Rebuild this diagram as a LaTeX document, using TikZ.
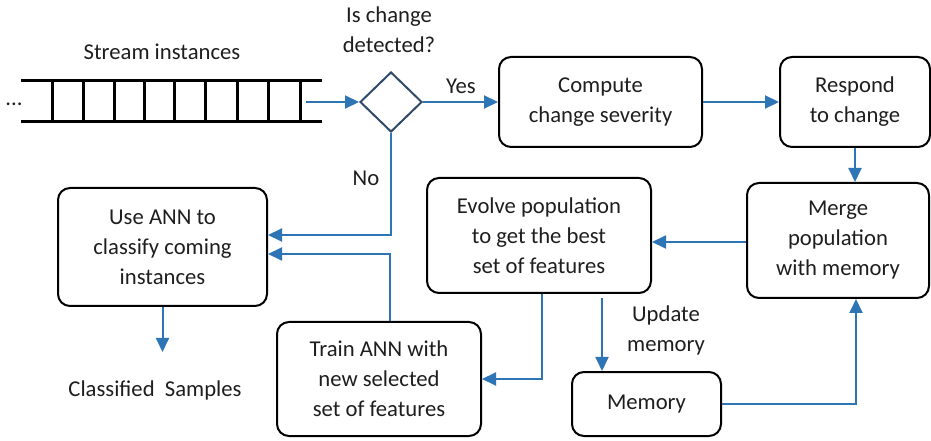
\documentclass[tikz,border=0pt]{standalone}
\usepackage{fontspec}
\setmainfont{Carlito}
\usetikzlibrary{arrows.meta,shapes.geometric}
\definecolor{flowblue}{RGB}{46,117,182}
\definecolor{slate}{RGB}{47,74,107}
\definecolor{ink}{RGB}{30,30,30}
\def\px{0.75pt}
\tikzset{
  box/.style={draw=black, line width=2*\px, rounded corners=12*\px, align=center,
              inner sep=0pt, text=ink},
  lbl/.style={align=center, text=ink, inner sep=0pt},
  arr/.style={draw=flowblue, line width=2*\px, -{Triangle[length=14*\px, width=13*\px]}},
  rail/.style={line width=3*\px, draw=black}
}
\begin{document}
\begin{tikzpicture}[x=0.75pt, y=-0.75pt, font=\fontsize{17}{22.5}\selectfont]
  \useasboundingbox (0,0) rectangle (931,441);

  % stream of instances as a ladder
  \draw[rail] (21,81) -- (322,81);
  \draw[rail] (21,122) -- (322,122);
  \foreach \x in {52,83,114,144,174,205,237,268,300}
    \draw[rail] (\x,81) -- (\x,122);
  \node[lbl] (dots) at (14,104) {...};
  \node[lbl] (stream) at (162,52) {Stream instances};
  \coordinate (streamEnd) at (306,102);

  % decision
  \node[diamond, draw=slate, line width=2*\px, inner sep=0pt,
        minimum width=62*\px, minimum height=60*\px] (dia) at (391,102) {};
  \node[lbl] (q) at (389,30) {Is change\\detected?};

  % process boxes
  \node[box, minimum width=203*\px, minimum height=90*\px] (cs) at (600.5,102)
    {Compute\\change severity};
  \node[box, minimum width=150*\px, minimum height=90*\px] (rc) at (855,102)
    {Respond\\to change};
  \node[box, minimum width=182*\px, minimum height=115*\px] (mg) at (838,240.5)
    {Merge\\population\\with memory};
  \node[box, minimum width=224*\px, minimum height=115*\px] (ev) at (539,235.5)
    {Evolve population\\to get the best\\set of features};
  \node[box, minimum width=209*\px, minimum height=118*\px] (use) at (162.5,247)
    {Use ANN to\\classify coming\\instances};
  \node[box, minimum width=204*\px, minimum height=114*\px] (tr) at (379,379)
    {Train ANN with\\new selected\\set of features};
  \node[box, minimum width=149*\px, minimum height=64*\px] (mem) at (646.5,404)
    {Memory};

  % free labels
  \node[lbl] (yes) at (461,86) {Yes};
  \node[lbl] (no) at (366,178) {No};
  \node[lbl] (upd) at (666,330) {Update\\memory};
  \node[lbl] (cls) at (155,390) {Classified\ \ Samples};
  \coordinate (clsTip) at (162.5,352);
  \coordinate (updTop) at (602,298);

  % connectors
  \draw[arr] (streamEnd) -- (dia.west);
  \draw[arr] (dia.east) -- (cs.west);
  \draw[arr] (cs.east) -- (rc.west);
  \draw[arr] (rc.south) -- (rc.south |- mg.north);
  \draw[arr] (mg.west |- 0,242) -- (ev.east |- 0,242);
  \draw[arr] (dia.south) |- ([yshift=9pt]use.east);
  \draw[arr] ([xshift=8.25pt]tr.north) |- ([yshift=-5.25pt]use.east);
  \draw[arr] ([xshift=2.25pt]ev.south) |- (tr.east);
  \draw[arr] (updTop) -- (updTop |- mem.north);
  \draw[arr] (mem.east) -| ([xshift=13.5pt]mg.south);
  \draw[arr] (use.south) -- (clsTip);
\end{tikzpicture}
\end{document}
